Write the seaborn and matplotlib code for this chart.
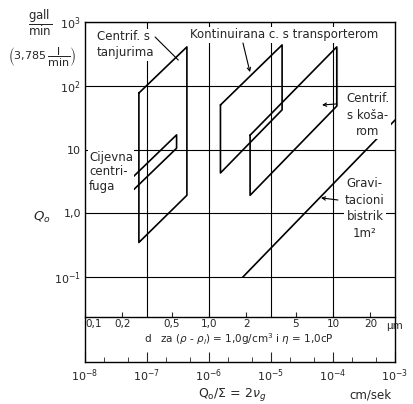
import numpy as np
import pandas as pd
import seaborn as sns
import matplotlib.pyplot as plt
from matplotlib.ticker import NullLocator, NullFormatter, LogLocator

# ---------------------------------------------------------------------------
# values: x = Q0/Sigma (cm/sek), y = Q0 (gall/min)
tanjurima_v = [7.4e-8, 4.4e-7, 4.4e-7, 7.4e-8, 7.4e-8]
tanjurima_q = [77, 407, 1.92, 0.35, 77]
cijevna_v = [5.4e-8, 3.0e-7, 3.0e-7, 5.4e-8, 5.4e-8]
cijevna_q = [3.4, 17, 10.5, 2.1, 3.4]
kontinuirana_v = [1.53e-6, 1.51e-5, 1.51e-5, 1.53e-6, 1.53e-6]
kontinuirana_q = [50, 437, 42, 4.3, 50]
kosarom_v = [4.6e-6, 1.15e-4, 1.15e-4, 4.6e-6, 4.6e-6]
kosarom_q = [16.8, 407, 48, 1.92, 16.8]
gravitacioni_v = [3.5e-6, 1e-3]
gravitacioni_q = [0.1, 29]

y_ticks = [0.1, 1, 10, 100, 1000]
y_labels = [r'$10^{-1}$', '1,0', '10', r'$10^2$', r'$10^3$']
x_ticks = [1e-8, 1e-7, 1e-6, 1e-5, 1e-4, 1e-3]

# particle size scale (um) shown inside the plot; v = v_per_um2 * d^2
d_ticks = [0.1, 0.2, 0.5, 1, 2, 5, 10, 20]
d_labels = ['0,1', '0,2', '0,5', '1,0', '2', '5', '10', '20']
v_per_um2 = 1e-6

#----------------------------------------------------------------------------

sns.set_style('ticks', {'axes.edgecolor': 'black'})
plt.rcParams['font.family'] = ['DejaVu Sans']

shapes = {
    'tanjurima': (tanjurima_v, tanjurima_q),
    'cijevna': (cijevna_v, cijevna_q),
    'kontinuirana': (kontinuirana_v, kontinuirana_q),
    'kosarom': (kosarom_v, kosarom_q),
    'gravitacioni': (gravitacioni_v, gravitacioni_q),
}
df = pd.concat([pd.DataFrame({'v': v, 'q': q, 'shape': k})
                for k, (v, q) in shapes.items()], ignore_index=True)

fig = plt.figure(figsize=(4.14, 4.04), dpi=100)
ax = fig.add_axes([85/414, 42/404, 310/414, 340/404])
ax.set_xscale('log')
ax.set_yscale('log')

sns.lineplot(data=df, x='v', y='q', units='shape', estimator=None, sort=False,
             color='black', lw=1.2, ax=ax, zorder=2)
# thick right edge of the basket centrifuge
sns.lineplot(x=kosarom_v[1:3], y=kosarom_q[1:3], color='black', lw=2.2,
             ax=ax, zorder=2)

ax.set_xlim(1e-8, 1e-3)
ax.set_ylim(10**-2.33, 1e3)
d_frac = 0.131

ax.set_xlabel('')
ax.set_ylabel('')
ax.set_yticks(y_ticks, labels=y_labels)
ax.yaxis.set_minor_locator(NullLocator())
ax.tick_params(axis='y', length=0, pad=3, labelsize=8)
ax.set_xticks(x_ticks)
ax.xaxis.set_minor_locator(LogLocator(base=10, subs=[2, 5]))
ax.xaxis.set_minor_formatter(NullFormatter())
ax.tick_params(axis='x', which='both', direction='in', labelsize=8, pad=4)
ax.tick_params(axis='x', which='major', length=7)
ax.tick_params(axis='x', which='minor', length=3.5)
for s in ax.spines.values():
    s.set_linewidth(1.0)

ax.grid(axis='y', which='major', color='black', lw=0.8)
ax.vlines(x_ticks[1:-1], d_frac, 1, transform=ax.get_xaxis_transform(),
          color='black', lw=0.8, zorder=1)

sec = ax.secondary_xaxis(d_frac, functions=(
    lambda v: np.sqrt(np.maximum(v, 1e-30) / v_per_um2),
    lambda d: v_per_um2 * np.asarray(d) ** 2))
sec.set_xticks(d_ticks, labels=d_labels)
sec.xaxis.set_minor_locator(NullLocator())
sec.tick_params(direction='in', length=3.5, pad=1, labelsize=7.5)
sec.spines['bottom'].set_linewidth(1.0)
sec.get_xticklabels()[0].set_horizontalalignment('left')
ax.text(1.0, d_frac - 0.024, 'μm', transform=ax.transAxes, ha='center',
        va='center', fontsize=7.5)
ax.text(0.19, 0.066, r'd   za ($\rho$ - $\rho_l$) = 1,0g/cm$^3$ i $\eta$ = 1,0cP',
        transform=ax.transAxes, ha='left', va='center', fontsize=7.5)

# labels of the equipment
box = dict(fc='white', ec='none', pad=1)
ax.text(0.039, 0.976, 'Centrif. s\ntanjurima', transform=ax.transAxes,
        ha='left', va='top', fontsize=8.5, linespacing=1.3, bbox=box, zorder=3)
ax.text(0.339, 0.962, 'Kontinuirana c. s transporterom', transform=ax.transAxes,
        ha='left', va='center', fontsize=8.5, bbox=box, zorder=3)
ax.text(0.913, 0.794, 'Centrif.\ns koša-\nrom', transform=ax.transAxes,
        ha='center', va='top', fontsize=8.5, linespacing=1.35,
        multialignment='center', bbox=box, zorder=3)
ax.text(0.013, 0.621, 'Cijevna\ncentri-\nfuga', transform=ax.transAxes,
        ha='left', va='top', fontsize=8.5, linespacing=1.15, bbox=box, zorder=3)
ax.text(0.903, 0.544, 'Gravi-\ntacioni\nbistrik\n1m²', transform=ax.transAxes,
        ha='center', va='top', fontsize=8.5, linespacing=1.35,
        multialignment='center', bbox=box, zorder=3)

lead = dict(arrowstyle='-', lw=0.8, color='black', shrinkA=0, shrinkB=0)
head = dict(arrowstyle='->', lw=0.8, color='black', shrinkA=0, shrinkB=0,
            mutation_scale=6)
ax.annotate('', xy=(3.2e-7, 253), xytext=(1.35e-7, 582), arrowprops=lead)
ax.annotate('', xy=(4.58e-6, 164), xytext=(3.53e-6, 468), arrowprops=head)
ax.annotate('', xy=(6.65e-5, 50), xytext=(1.16e-4, 52), arrowprops=head)
ax.annotate('', xy=(6.4e-5, 1.75), xytext=(1.2e-4, 1.62), arrowprops=head)

# axis titles
ax.text(-0.139, 0.426, r'$Q_o$', transform=ax.transAxes, ha='center',
        va='center', fontsize=9.5)
ax.text(0.474, -0.097, r'$\mathrm{Q_o}/\Sigma$ = 2$\nu_g$', transform=ax.transAxes,
        ha='center', va='center', fontsize=9)
ax.text(0.92, -0.097, 'cm/sek', transform=ax.transAxes, ha='center',
        va='center', fontsize=8.5)
fig.text(0.097, 0.944, r'$\dfrac{\mathrm{gall}}{\mathrm{min}}$', ha='center',
         va='center', fontsize=8.5)
fig.text(0.101, 0.859, r'$\left(3{,}785\,\dfrac{\mathrm{l}}{\mathrm{min}}\right)$',
         ha='center', va='center', fontsize=8)

fig.savefig('out.png', dpi=100)
